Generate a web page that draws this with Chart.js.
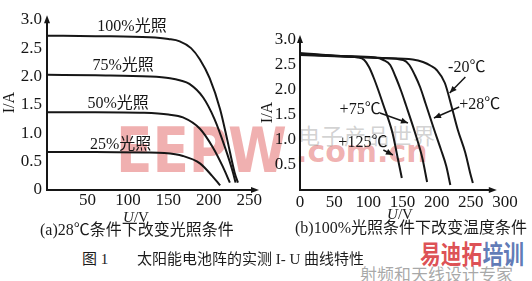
<!DOCTYPE html>
<html>
<head>
<meta charset="utf-8">
<script src="https://cdn.jsdelivr.net/npm/chart.js@4.4.1/dist/chart.umd.min.js"></script>
<style>
body{margin:0;background:#fff;width:532px;height:281px;overflow:hidden;position:relative;font-family:"Liberation Serif","Noto Sans CJK SC",serif;color:#1b1b1b}
canvas{position:absolute;top:0}
.t{position:absolute;white-space:nowrap;line-height:1}
.wm{position:absolute;white-space:nowrap;line-height:1}
</style>
</head>
<body>
<!-- watermarks, behind the charts -->
<div class="wm" style="left:116px;top:114px;font:bold 62px 'DejaVu Sans';color:rgba(222,80,80,0.45);transform:scaleX(0.86);transform-origin:left">EEPW</div>
<div class="wm" style="left:298px;top:118px;font:22px 'Noto Sans CJK SC';letter-spacing:1px;color:rgba(140,140,140,0.4)">电子产品世界</div>
<div class="wm" style="left:296px;top:134px;font:bold 30px 'DejaVu Sans';color:rgba(222,80,80,0.45)">.com.cn</div>
<div class="wm" style="left:420px;top:234px;font:bold 26px 'Noto Sans CJK SC';transform:scaleX(0.8);transform-origin:left"><span style="color:rgba(215,50,55,0.85)">易迪拓</span><span style="color:rgba(70,100,170,0.85)">培训</span></div>
<div class="wm" style="left:360px;top:261px;font:17px 'Noto Sans CJK SC';color:rgba(110,110,110,0.6)">射频和天线设计专家</div>

<canvas id="chartA" width="265" height="210" style="left:0"></canvas>
<canvas id="chartB" width="274" height="210" style="left:258px"></canvas>

<div class="t" style="left:136px;top:210px;font-size:15px;transform:translateX(-50%)"><i>U</i>/V</div>
<div class="t" style="left:400px;top:207px;font-size:15px;transform:translateX(-50%)"><i>U</i>/V</div>
<div class="t" style="left:40px;top:222px;font-size:16px">(a)28℃条件下改变光照条件</div>
<div class="t" style="left:295px;top:220px;font-size:16px">(b)100%光照条件下改变温度条件</div>
<div class="t" style="left:82px;top:252px;font-size:15px">图 1</div>
<div class="t" style="left:137px;top:252px;font-size:15px">太阳能电池阵的实测 I- U 曲线特性</div>

<script>
// (a) 28C, irradiance varied
const uA100 = [0, 60, 127, 150, 164, 178, 189, 201, 214, 223, 232, 236];
const iA100 = [2.72, 2.71, 2.69, 2.66, 2.62, 2.5, 2.3, 1.97, 1.42, 0.87, 0.3, 0.13];
const uA75 = [0, 60, 127, 152, 165, 176, 193, 207, 220, 230, 233];
const iA75 = [2.03, 2.02, 2.0, 1.97, 1.93, 1.87, 1.63, 1.25, 0.75, 0.3, 0.13];
const uA50 = [0, 60, 120, 150, 168, 189, 205, 217, 226];
const iA50 = [1.37, 1.37, 1.36, 1.33, 1.28, 1.08, 0.75, 0.42, 0.13];
const uA25 = [0, 60, 120, 145, 168, 189, 204, 214];
const iA25 = [0.67, 0.67, 0.66, 0.65, 0.6, 0.47, 0.25, 0.08];

// (b) 100% irradiance, temperature varied
const uBm20 = [0, 60, 120, 165, 180, 192, 200, 212, 222, 231, 242, 249, 253];
const iBm20 = [2.70, 2.67, 2.64, 2.61, 2.56, 2.48, 2.4, 2.14, 1.66, 1.2, 0.74, 0.34, 0.14];
const uB28 = [0, 60, 120, 151, 160, 168, 176, 184, 196, 206, 214, 220];
const iB28 = [2.72, 2.68, 2.64, 2.6, 2.5, 2.3, 2.05, 1.72, 1.22, 0.82, 0.48, 0.1];
const uB75 = [0, 60, 110, 122, 132, 140, 148, 155, 168, 179, 186];
const iB75 = [2.74, 2.68, 2.65, 2.6, 2.5, 2.26, 1.98, 1.7, 1.16, 0.64, 0.16];
const uB125 = [0, 50, 85, 94, 101, 108, 115, 122, 135, 143, 149];
const iB125 = [2.72, 2.68, 2.65, 2.6, 2.46, 2.24, 1.98, 1.7, 1.16, 0.64, 0.24];

// curve labels: text, U, I
const notesA = [['100%光照', 105, 2.88], ['75%光照', 94, 2.18], ['50%光照', 88, 1.52], ['25%光照', 91, 0.80]];
const notesB = [['-20℃', 244, 2.44], ['+28℃', 263, 1.7], ['+75℃', 88, 1.6], ['+125℃', 92, 0.94]];
// leader arrows: from U,I to U,I
const arrowsB = [[242, 2.26, 219, 1.94], [233, 1.66, 196, 1.44], [117, 1.54, 158, 1.34], [122, 0.8, 136, 0.7]];

const ink = '#161616';
const serif = '"Liberation Serif", "Noto Sans CJK SC", serif';

function curve(us, is) {
    return us.map((u, k) => ({x: u, y: is[k]}));
}

function head(ctx, x1, y1, x2, y2, len, w) {
    const a = Math.atan2(y2 - y1, x2 - x1);
    const bx = x2 - len * Math.cos(a), by = y2 - len * Math.sin(a);
    ctx.beginPath();
    ctx.moveTo(x2, y2);
    ctx.lineTo(bx + w * Math.sin(a), by - w * Math.cos(a));
    ctx.lineTo(bx - w * Math.sin(a), by + w * Math.cos(a));
    ctx.closePath();
    ctx.fill();
}

// axes with arrows, curve labels and leader arrows
const marks = {
    id: 'marks',
    afterDatasetsDraw(chart, args, opts) {
        const ctx = chart.ctx, xs = chart.scales.x, ys = chart.scales.y;
        const x0 = xs.getPixelForValue(0), y0 = ys.getPixelForValue(0);
        const xe = xs.getPixelForValue(opts.xEnd), ye = ys.getPixelForValue(opts.yEnd);
        ctx.save();
        ctx.strokeStyle = ink;
        ctx.fillStyle = ink;
        ctx.lineWidth = 2;
        ctx.beginPath();
        ctx.moveTo(x0, ye + 4);
        ctx.lineTo(x0, y0);
        ctx.lineTo(xe - 4, y0);
        ctx.stroke();
        head(ctx, x0, y0, x0, ye, 8, 3);
        head(ctx, x0, y0, xe, y0, 8, 3);

        ctx.font = '16px ' + serif;
        ctx.textAlign = 'center';
        ctx.textBaseline = 'middle';
        opts.notes.forEach(n => ctx.fillText(n[0], xs.getPixelForValue(n[1]), ys.getPixelForValue(n[2])));

        ctx.lineWidth = 1.5;
        opts.arrows.forEach(a => {
            const p1 = [xs.getPixelForValue(a[0]), ys.getPixelForValue(a[1])];
            const p2 = [xs.getPixelForValue(a[2]), ys.getPixelForValue(a[3])];
            ctx.beginPath();
            ctx.moveTo(p1[0], p1[1]);
            ctx.lineTo(p2[0], p2[1]);
            ctx.stroke();
            head(ctx, p1[0], p1[1], p2[0], p2[1], 7, 3);
        });
        ctx.restore();
    }
};

function makeChart(id, sets, cfg) {
    const datasets = sets.map(s => ({
        data: curve(s[0], s[1]),
        showLine: true,
        pointRadius: 0,
        borderColor: ink,
        borderWidth: 2,
        cubicInterpolationMode: 'monotone',
        fill: false
    }));
    return new Chart(document.getElementById(id), {
        type: 'scatter',
        data: {datasets: datasets},
        plugins: [marks],
        options: {
            responsive: false,
            animation: false,
            devicePixelRatio: 1,
            layout: {padding: cfg.pad},
            plugins: {
                legend: {display: false},
                tooltip: {enabled: false},
                marks: {xEnd: cfg.xEnd, yEnd: cfg.yMax, notes: cfg.notes, arrows: cfg.arrows}
            },
            scales: {
                x: {
                    type: 'linear',
                    min: 0,
                    max: cfg.xMax,
                    grid: {display: false, drawTicks: false},
                    border: {display: false},
                    ticks: {stepSize: 50, includeBounds: false, autoSkip: false, maxRotation: 0,
                        padding: cfg.xPad, color: ink, font: {family: serif, size: 17}},
                    afterBuildTicks: s => { s.ticks = s.ticks.filter(t => cfg.xZero || t.value !== 0); },
                    afterFit: s => { s.height = 20; }
                },
                y: {
                    type: 'linear',
                    min: 0,
                    max: cfg.yMax,
                    grid: {display: false, drawTicks: false},
                    border: {display: false},
                    ticks: {stepSize: 0.5, includeBounds: false, autoSkip: false, padding: cfg.yPad,
                        color: ink, font: {family: serif, size: 17},
                        callback: v => v === 0 ? '0' : v.toFixed(1)},
                    title: {display: true, text: 'I/A', padding: 0, color: ink, font: {family: serif, size: 16}},
                    afterBuildTicks: s => { s.ticks = s.ticks.filter(t => cfg.yZero || t.value !== 0); },
                    afterFit: s => { s.width = cfg.yWidth; }
                }
            }
        }
    });
}

makeChart('chartA', [[uA100, iA100], [uA75, iA75], [uA50, iA50], [uA25, iA25]], {
    pad: {top: 5, right: 6, left: 0, bottom: 0},
    xMax: 262, xEnd: 262, yMax: 3.08, yWidth: 47, xPad: 0, yPad: 5,
    xZero: false, yZero: true, notes: notesA, arrows: []
});

makeChart('chartB', [[uBm20, iBm20], [uB28, iB28], [uB75, iB75], [uB125, iB125]], {
    pad: {top: 35, right: 27, left: 0, bottom: 0},
    xMax: 300, xEnd: 288, yMax: 3.1, yWidth: 42, xPad: 2, yPad: 4,
    xZero: true, yZero: false, notes: notesB, arrows: arrowsB
});
</script>
</body>
</html>
